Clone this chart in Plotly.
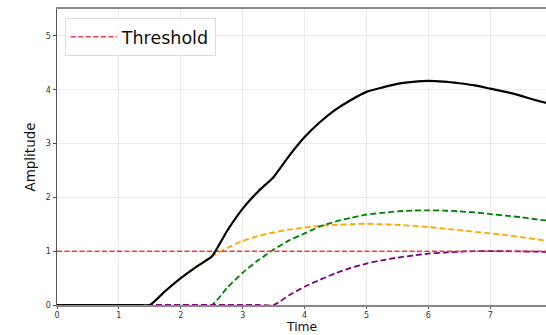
import plotly.graph_objects as go

time = [0.0, 0.25, 0.5, 0.75, 1.0, 1.25, 1.5, 1.75, 2.0, 2.25, 2.5, 2.75, 3.0, 3.25, 3.5,
        3.75, 4.0, 4.25, 4.5, 4.75, 5.0, 5.25, 5.5, 5.75, 6.0, 6.25, 6.5, 6.75, 7.0,
        7.25, 7.5, 7.75, 8.0]

orange = [0, 0, 0, 0, 0, 0, 0, 0.26, 0.50, 0.71, 0.90, 1.06, 1.19, 1.28, 1.35,
          1.40, 1.44, 1.47, 1.49, 1.50, 1.51, 1.50, 1.49, 1.47, 1.45, 1.42, 1.39, 1.36, 1.33,
          1.30, 1.26, 1.22, 1.18]

green = [0, 0, 0, 0, 0, 0, 0, 0, 0, 0, 0, 0.32, 0.60, 0.83, 1.03,
         1.20, 1.33, 1.46, 1.55, 1.62, 1.68, 1.71, 1.74, 1.755, 1.76, 1.755, 1.74, 1.72, 1.69,
         1.66, 1.63, 1.59, 1.56]

purple = [0, 0, 0, 0, 0, 0, 0, 0, 0, 0, 0, 0, 0, 0, 0,
          0.18, 0.34, 0.47, 0.59, 0.69, 0.77, 0.83, 0.88, 0.92, 0.955, 0.975, 0.99, 1.0, 1.0,
          1.0, 0.995, 0.99, 0.985]

total = [0, 0, 0, 0, 0, 0, 0, 0.26, 0.50, 0.71, 0.90, 1.38, 1.79, 2.11, 2.38,
         2.77, 3.12, 3.40, 3.63, 3.81, 3.96, 4.04, 4.11, 4.145, 4.165, 4.15, 4.12, 4.08, 4.02,
         3.96, 3.885, 3.80, 3.725]

threshold_value = 1.0
x_ticks = [0, 1, 2, 3, 4, 5, 6, 7]
y_ticks = [0, 1, 2, 3, 4, 5]

fig = go.Figure()
dash = "6px,3px"
for series, col in [(orange, "orange"), (green, "green"), (purple, "purple")]:
    fig.add_trace(go.Scatter(x=time, y=series, mode="lines",
                             line=dict(color=col, width=1.8, dash=dash, shape="spline", smoothing=0.6),
                             showlegend=False))
fig.add_trace(go.Scatter(x=[0, 8], y=[threshold_value, threshold_value], mode="lines",
                         line=dict(color="rgba(238,40,50,0.9)", width=1.5, dash="5px,2.5px"),
                         name="Threshold"))
fig.add_trace(go.Scatter(x=time, y=total, mode="lines",
                         line=dict(color="black", width=2.2, shape="spline", smoothing=0.5),
                         showlegend=False))

fig.add_annotation(text="Time", xref="paper", yref="paper", x=0.5, y=-0.1014,
                   xanchor="center", yanchor="bottom", showarrow=False, borderpad=0,
                   font=dict(size=12.3, color="#111"))

fig.update_layout(
    width=546, height=335,
    margin=dict(l=57, r=0, t=9, b=30),
    paper_bgcolor="white", plot_bgcolor="white",
    font=dict(family="DejaVu Sans", color="#222"),
    legend=dict(x=0.016, y=0.97, xanchor="left", yanchor="top", itemwidth=46,
                bgcolor="rgba(255,255,255,0.8)", bordercolor="#dddddd", borderwidth=1,
                font=dict(size=17.5, color="#111")),
    xaxis=dict(range=[0, 7.9], tickvals=x_ticks, showgrid=True, gridcolor="rgba(0,0,0,0.08)",
               gridwidth=1, zeroline=False, showline=True, linecolor="#888", linewidth=1.5,
               mirror=True, ticks="outside", ticklen=2, tickcolor="#555",
               tickfont=dict(size=8, color="#333")),
    yaxis=dict(range=[0, 5.5], tickvals=y_ticks, showgrid=True, gridcolor="rgba(0,0,0,0.08)",
               gridwidth=1, zeroline=False, showline=True, linecolor="#555", linewidth=1,
               ticks="outside", ticklen=3.5, tickcolor="#555",
               tickfont=dict(size=8, color="#333"),
               title=dict(text="Amplitude", font=dict(size=13.5, color="#111"), standoff=7)),
)

fig.write_html("out.html")
